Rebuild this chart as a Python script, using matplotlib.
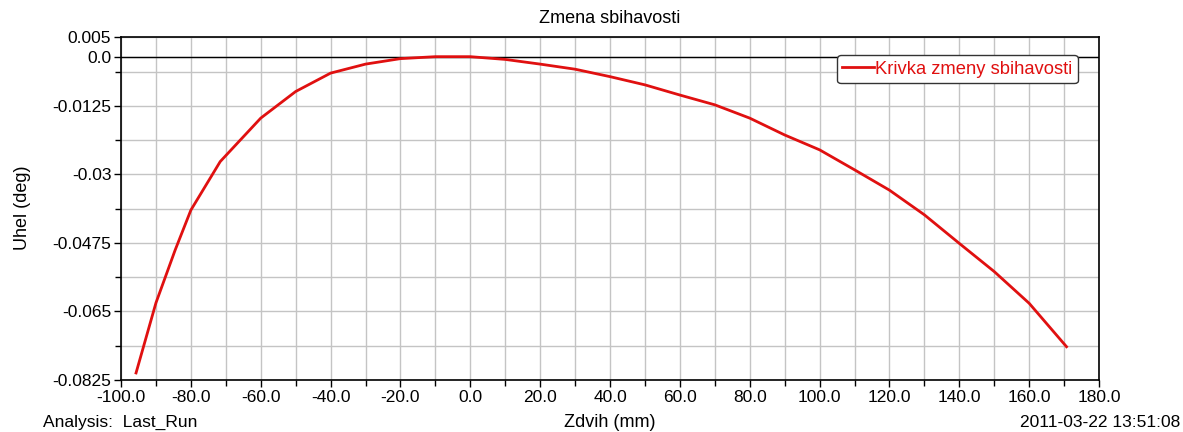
import matplotlib
matplotlib.use("Agg")
import matplotlib.pyplot as plt
from matplotlib.ticker import MultipleLocator, FixedLocator

plt.rcParams['font.family'] = ['Liberation Sans', 'DejaVu Sans']

# Data
zdvih = [-95.7, -90, -84.5, -80, -71.6, -60, -50, -40, -30, -20, -10, 0, 10,
         20, 30, 40, 50, 60, 70, 80, 90, 100, 110, 120, 130, 140, 150, 160, 170.7]
uhel = [-0.0807, -0.0628, -0.0493, -0.0391, -0.0267, -0.0156, -0.0088, -0.0041,
        -0.0018, -0.0004, 0.0001, 0.0001, -0.0006, -0.0018, -0.0031, -0.0050,
        -0.0071, -0.0097, -0.0122, -0.0156, -0.0199, -0.0237, -0.0288, -0.0340,
        -0.0403, -0.0476, -0.0548, -0.0629, -0.0740]

xticks = [-100, -80, -60, -40, -20, 0, 20, 40, 60, 80, 100, 120, 140, 160, 180]
xticklabels = ["-100.0", "-80.0", "-60.0", "-40.0", "-20.0", "0.0", "20.0", "40.0",
               "60.0", "80.0", "100.0", "120.0", "140.0", "160.0", "180.0"]
yticks = [0.005, 0.0, -0.0125, -0.03, -0.0475, -0.065, -0.0825]
yticklabels = ["0.005", "0.0", "-0.0125", "-0.03", "-0.0475", "-0.065", "-0.0825"]
yminor = [-0.00375, -0.02125, -0.03875, -0.05625, -0.07375]

fig = plt.figure(figsize=(11.83, 4.32), dpi=100)
ax = fig.add_axes([0.1023, 0.1204, 0.9290 - 0.1023, 0.9132 - 0.1204])

ax.set_xlim(-100, 180)
ax.set_ylim(-0.0825, 0.005)

ax.set_xticks(xticks)
ax.set_xticklabels(xticklabels)
ax.xaxis.set_minor_locator(MultipleLocator(10))
ax.set_yticks(yticks)
ax.set_yticklabels(yticklabels)
ax.yaxis.set_minor_locator(FixedLocator(yminor))

ax.set_axisbelow(True)
ax.grid(True, which='both', color='#c4c4c4', linewidth=1.0)
ax.axhline(0.0, color='black', linewidth=1.0, zorder=2)

ax.tick_params(axis='both', which='both', direction='out', labelsize=12.5,
               colors='black', width=1.0)
ax.tick_params(axis='both', which='major', length=5, pad=2)
ax.tick_params(axis='both', which='minor', length=4)

for s in ax.spines.values():
    s.set_color('black')
    s.set_linewidth(1.2)

ax.plot(zdvih, uhel, color='#e01010', linewidth=2.0, label='Krivka zmeny sbihavosti',
        zorder=3, solid_joinstyle='round')

leg = ax.legend(loc='upper right', bbox_to_anchor=(0.988, 0.975), fontsize=13.2,
                frameon=True, fancybox=True, handlelength=1.7, handletextpad=0.1,
                borderpad=0.3, labelcolor='#e01010')
leg.get_frame().set_edgecolor('#333333')
leg.get_frame().set_linewidth(1.0)
leg.get_frame().set_alpha(1.0)

fig.text(0.5157, 0.958, "Zmena sbihavosti", ha='center', va='center', fontsize=13)
fig.text(0.5157, 0.023, "Zdvih (mm)", ha='center', va='center', fontsize=13)
fig.text(0.019, 0.52, "Uhel (deg)", ha='center', va='center', rotation=90, fontsize=13)
fig.text(0.036, 0.023, "Analysis:  Last_Run", ha='left', va='center', fontsize=12.5)
fig.text(0.998, 0.023, "2011-03-22 13:51:08", ha='right', va='center', fontsize=12.5)

fig.savefig("out.png", dpi=100)
